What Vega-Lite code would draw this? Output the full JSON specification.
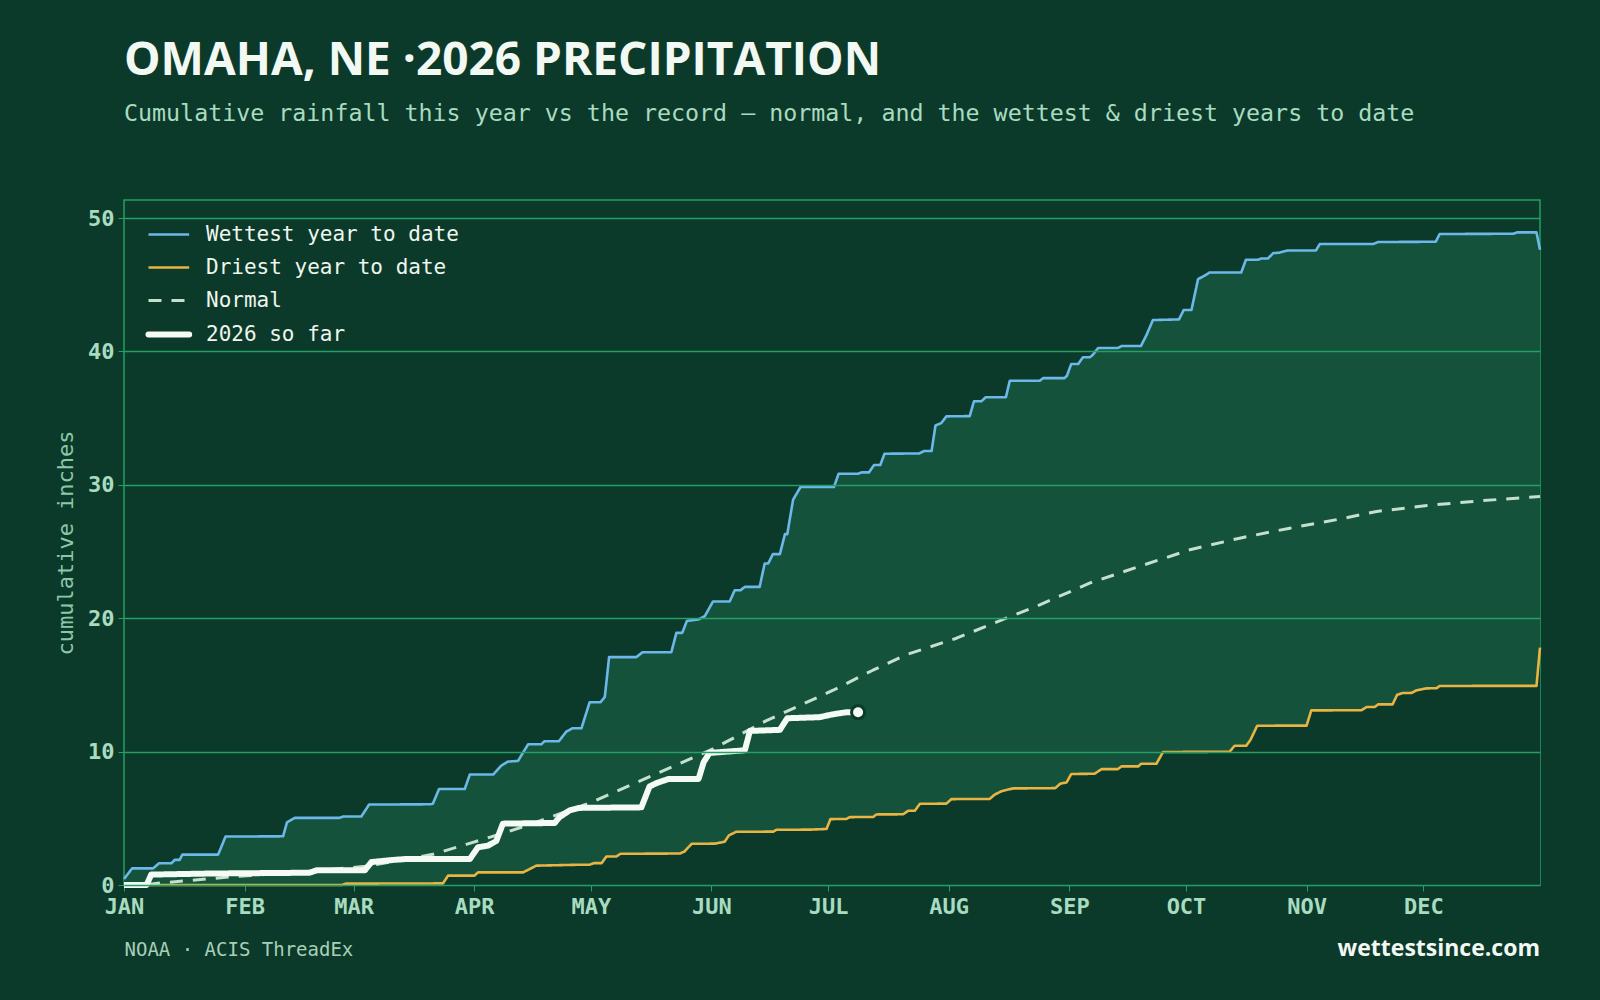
{
  "$schema": "https://vega.github.io/schema/vega-lite/v6.json",
  "width": 1416,
  "height": 685,
  "autosize": {"type": "none"},
  "padding": {"left": 124, "top": 200, "right": 60, "bottom": 115},
  "background": "#0c3a2a",
  "config": {
    "view": {"stroke": "#22a066", "strokeWidth": 1.5},
    "font": "DejaVu Sans Mono"
  },
  "title": {
    "text": "OMAHA, NE ·2026 PRECIPITATION",
    "subtitle": "Cumulative rainfall this year vs the record — normal, and the wettest & driest years to date",
    "anchor": "start",
    "frame": "group",
    "offset": 74,
    "font": "Open Sans",
    "fontSize": 46,
    "fontWeight": 700,
    "color": "#f2f8f2",
    "subtitleFont": "DejaVu Sans Mono",
    "subtitleFontSize": 23.3,
    "subtitleColor": "#a8dcc0",
    "subtitlePadding": 18
  },
  "datasets": {
    "curves": [
      {"s": "Wettest year to date", "d": 0, "v": 0.45},
      {"s": "Wettest year to date", "d": 2.1, "v": 1.25},
      {"s": "Wettest year to date", "d": 7.5, "v": 1.25},
      {"s": "Wettest year to date", "d": 9.0, "v": 1.63},
      {"s": "Wettest year to date", "d": 12.2, "v": 1.63},
      {"s": "Wettest year to date", "d": 13.0, "v": 1.88},
      {"s": "Wettest year to date", "d": 14.3, "v": 1.88},
      {"s": "Wettest year to date", "d": 15.0, "v": 2.28},
      {"s": "Wettest year to date", "d": 24.2, "v": 2.28},
      {"s": "Wettest year to date", "d": 26.1, "v": 3.63},
      {"s": "Wettest year to date", "d": 40.9, "v": 3.65},
      {"s": "Wettest year to date", "d": 41.9, "v": 4.7},
      {"s": "Wettest year to date", "d": 43.9, "v": 5.03},
      {"s": "Wettest year to date", "d": 55.4, "v": 5.03},
      {"s": "Wettest year to date", "d": 56.3, "v": 5.13},
      {"s": "Wettest year to date", "d": 61.0, "v": 5.13},
      {"s": "Wettest year to date", "d": 63.0, "v": 6.03},
      {"s": "Wettest year to date", "d": 78.6, "v": 6.05},
      {"s": "Wettest year to date", "d": 79.4, "v": 6.1},
      {"s": "Wettest year to date", "d": 81.0, "v": 7.2},
      {"s": "Wettest year to date", "d": 87.6, "v": 7.2},
      {"s": "Wettest year to date", "d": 88.9, "v": 8.28},
      {"s": "Wettest year to date", "d": 94.9, "v": 8.28},
      {"s": "Wettest year to date", "d": 97.0, "v": 8.95},
      {"s": "Wettest year to date", "d": 98.7, "v": 9.25},
      {"s": "Wettest year to date", "d": 101.3, "v": 9.3},
      {"s": "Wettest year to date", "d": 101.9, "v": 9.6},
      {"s": "Wettest year to date", "d": 103.9, "v": 10.55},
      {"s": "Wettest year to date", "d": 107.3, "v": 10.55},
      {"s": "Wettest year to date", "d": 108.1, "v": 10.78},
      {"s": "Wettest year to date", "d": 111.8, "v": 10.78},
      {"s": "Wettest year to date", "d": 113.7, "v": 11.5},
      {"s": "Wettest year to date", "d": 115.3, "v": 11.75},
      {"s": "Wettest year to date", "d": 117.6, "v": 11.75},
      {"s": "Wettest year to date", "d": 119.7, "v": 13.7},
      {"s": "Wettest year to date", "d": 122.5, "v": 13.7},
      {"s": "Wettest year to date", "d": 123.6, "v": 14.1},
      {"s": "Wettest year to date", "d": 124.7, "v": 17.08},
      {"s": "Wettest year to date", "d": 131.7, "v": 17.08},
      {"s": "Wettest year to date", "d": 133.3, "v": 17.45},
      {"s": "Wettest year to date", "d": 140.7, "v": 17.45},
      {"s": "Wettest year to date", "d": 142.0, "v": 18.9},
      {"s": "Wettest year to date", "d": 143.5, "v": 18.9},
      {"s": "Wettest year to date", "d": 144.7, "v": 19.8},
      {"s": "Wettest year to date", "d": 147.6, "v": 19.9},
      {"s": "Wettest year to date", "d": 149.3, "v": 20.15},
      {"s": "Wettest year to date", "d": 151.4, "v": 21.25},
      {"s": "Wettest year to date", "d": 155.7, "v": 21.25},
      {"s": "Wettest year to date", "d": 157.0, "v": 22.1},
      {"s": "Wettest year to date", "d": 158.5, "v": 22.1},
      {"s": "Wettest year to date", "d": 159.6, "v": 22.35},
      {"s": "Wettest year to date", "d": 163.4, "v": 22.35},
      {"s": "Wettest year to date", "d": 164.7, "v": 24.1},
      {"s": "Wettest year to date", "d": 165.6, "v": 24.1},
      {"s": "Wettest year to date", "d": 166.8, "v": 24.8},
      {"s": "Wettest year to date", "d": 168.6, "v": 24.8},
      {"s": "Wettest year to date", "d": 169.9, "v": 26.3},
      {"s": "Wettest year to date", "d": 170.5, "v": 26.3},
      {"s": "Wettest year to date", "d": 172.0, "v": 28.88},
      {"s": "Wettest year to date", "d": 173.9, "v": 29.83},
      {"s": "Wettest year to date", "d": 182.5, "v": 29.83},
      {"s": "Wettest year to date", "d": 183.7, "v": 30.83},
      {"s": "Wettest year to date", "d": 188.7, "v": 30.83},
      {"s": "Wettest year to date", "d": 189.6, "v": 30.93},
      {"s": "Wettest year to date", "d": 191.5, "v": 30.93},
      {"s": "Wettest year to date", "d": 192.8, "v": 31.48},
      {"s": "Wettest year to date", "d": 194.4, "v": 31.48},
      {"s": "Wettest year to date", "d": 195.5, "v": 32.33},
      {"s": "Wettest year to date", "d": 204.5, "v": 32.35},
      {"s": "Wettest year to date", "d": 205.6, "v": 32.53},
      {"s": "Wettest year to date", "d": 207.6, "v": 32.53},
      {"s": "Wettest year to date", "d": 208.6, "v": 34.45},
      {"s": "Wettest year to date", "d": 210.1, "v": 34.63},
      {"s": "Wettest year to date", "d": 211.4, "v": 35.13},
      {"s": "Wettest year to date", "d": 217.4, "v": 35.15},
      {"s": "Wettest year to date", "d": 218.5, "v": 36.26},
      {"s": "Wettest year to date", "d": 220.4, "v": 36.26},
      {"s": "Wettest year to date", "d": 221.5, "v": 36.56},
      {"s": "Wettest year to date", "d": 226.7, "v": 36.56},
      {"s": "Wettest year to date", "d": 227.7, "v": 37.8},
      {"s": "Wettest year to date", "d": 235.4, "v": 37.8},
      {"s": "Wettest year to date", "d": 236.3, "v": 38.0},
      {"s": "Wettest year to date", "d": 241.8, "v": 38.0},
      {"s": "Wettest year to date", "d": 242.4, "v": 38.18},
      {"s": "Wettest year to date", "d": 243.5, "v": 39.06},
      {"s": "Wettest year to date", "d": 245.3, "v": 39.06},
      {"s": "Wettest year to date", "d": 246.5, "v": 39.56},
      {"s": "Wettest year to date", "d": 248.3, "v": 39.56},
      {"s": "Wettest year to date", "d": 249.1, "v": 39.76},
      {"s": "Wettest year to date", "d": 250.4, "v": 40.26},
      {"s": "Wettest year to date", "d": 255.5, "v": 40.26},
      {"s": "Wettest year to date", "d": 256.4, "v": 40.4},
      {"s": "Wettest year to date", "d": 261.4, "v": 40.4},
      {"s": "Wettest year to date", "d": 262.8, "v": 41.2},
      {"s": "Wettest year to date", "d": 264.5, "v": 42.35},
      {"s": "Wettest year to date", "d": 271.2, "v": 42.4},
      {"s": "Wettest year to date", "d": 272.4, "v": 43.1},
      {"s": "Wettest year to date", "d": 274.4, "v": 43.1},
      {"s": "Wettest year to date", "d": 276.1, "v": 45.42},
      {"s": "Wettest year to date", "d": 277.4, "v": 45.62},
      {"s": "Wettest year to date", "d": 279.1, "v": 45.92},
      {"s": "Wettest year to date", "d": 287.2, "v": 45.92},
      {"s": "Wettest year to date", "d": 288.4, "v": 46.87},
      {"s": "Wettest year to date", "d": 291.5, "v": 46.87},
      {"s": "Wettest year to date", "d": 292.4, "v": 46.97},
      {"s": "Wettest year to date", "d": 294.1, "v": 46.97},
      {"s": "Wettest year to date", "d": 295.4, "v": 47.37},
      {"s": "Wettest year to date", "d": 297.0, "v": 47.4},
      {"s": "Wettest year to date", "d": 299.2, "v": 47.57},
      {"s": "Wettest year to date", "d": 306.4, "v": 47.57},
      {"s": "Wettest year to date", "d": 307.4, "v": 48.05},
      {"s": "Wettest year to date", "d": 321.1, "v": 48.05},
      {"s": "Wettest year to date", "d": 322.4, "v": 48.2},
      {"s": "Wettest year to date", "d": 337.2, "v": 48.22},
      {"s": "Wettest year to date", "d": 338.2, "v": 48.8},
      {"s": "Wettest year to date", "d": 357.1, "v": 48.82},
      {"s": "Wettest year to date", "d": 358.1, "v": 48.92},
      {"s": "Wettest year to date", "d": 363.1, "v": 48.92},
      {"s": "Wettest year to date", "d": 364, "v": 47.62},

      {"s": "Driest year to date", "d": 0, "v": 0},
      {"s": "Driest year to date", "d": 56.0, "v": 0},
      {"s": "Driest year to date", "d": 57.0, "v": 0.1},
      {"s": "Driest year to date", "d": 82.0, "v": 0.12},
      {"s": "Driest year to date", "d": 83.3, "v": 0.7},
      {"s": "Driest year to date", "d": 90.1, "v": 0.7},
      {"s": "Driest year to date", "d": 91.0, "v": 0.95},
      {"s": "Driest year to date", "d": 102.6, "v": 0.95},
      {"s": "Driest year to date", "d": 104.3, "v": 1.2},
      {"s": "Driest year to date", "d": 106.0, "v": 1.45},
      {"s": "Driest year to date", "d": 117.2, "v": 1.52},
      {"s": "Driest year to date", "d": 119.7, "v": 1.52},
      {"s": "Driest year to date", "d": 120.8, "v": 1.64},
      {"s": "Driest year to date", "d": 122.8, "v": 1.64},
      {"s": "Driest year to date", "d": 124.0, "v": 2.14},
      {"s": "Driest year to date", "d": 126.6, "v": 2.14},
      {"s": "Driest year to date", "d": 127.6, "v": 2.34},
      {"s": "Driest year to date", "d": 142.9, "v": 2.36},
      {"s": "Driest year to date", "d": 144.1, "v": 2.51},
      {"s": "Driest year to date", "d": 145.9, "v": 3.09},
      {"s": "Driest year to date", "d": 151.9, "v": 3.1},
      {"s": "Driest year to date", "d": 154.4, "v": 3.24},
      {"s": "Driest year to date", "d": 155.5, "v": 3.72},
      {"s": "Driest year to date", "d": 157.4, "v": 3.99},
      {"s": "Driest year to date", "d": 166.9, "v": 4.0},
      {"s": "Driest year to date", "d": 167.7, "v": 4.14},
      {"s": "Driest year to date", "d": 176.3, "v": 4.15},
      {"s": "Driest year to date", "d": 180.6, "v": 4.2},
      {"s": "Driest year to date", "d": 181.6, "v": 4.94},
      {"s": "Driest year to date", "d": 185.7, "v": 4.95},
      {"s": "Driest year to date", "d": 186.6, "v": 5.09},
      {"s": "Driest year to date", "d": 192.6, "v": 5.1},
      {"s": "Driest year to date", "d": 193.4, "v": 5.29},
      {"s": "Driest year to date", "d": 200.3, "v": 5.3},
      {"s": "Driest year to date", "d": 201.6, "v": 5.57},
      {"s": "Driest year to date", "d": 203.3, "v": 5.57},
      {"s": "Driest year to date", "d": 204.6, "v": 6.09},
      {"s": "Driest year to date", "d": 211.4, "v": 6.1},
      {"s": "Driest year to date", "d": 212.7, "v": 6.44},
      {"s": "Driest year to date", "d": 222.5, "v": 6.45},
      {"s": "Driest year to date", "d": 223.8, "v": 6.77},
      {"s": "Driest year to date", "d": 225.5, "v": 7.02},
      {"s": "Driest year to date", "d": 228.5, "v": 7.24},
      {"s": "Driest year to date", "d": 239.4, "v": 7.26},
      {"s": "Driest year to date", "d": 240.7, "v": 7.6},
      {"s": "Driest year to date", "d": 242.3, "v": 7.69},
      {"s": "Driest year to date", "d": 243.5, "v": 8.32},
      {"s": "Driest year to date", "d": 249.5, "v": 8.34},
      {"s": "Driest year to date", "d": 251.3, "v": 8.69},
      {"s": "Driest year to date", "d": 255.5, "v": 8.69},
      {"s": "Driest year to date", "d": 256.4, "v": 8.89},
      {"s": "Driest year to date", "d": 260.7, "v": 8.89},
      {"s": "Driest year to date", "d": 261.5, "v": 9.09},
      {"s": "Driest year to date", "d": 265.4, "v": 9.09},
      {"s": "Driest year to date", "d": 267.1, "v": 9.97},
      {"s": "Driest year to date", "d": 284.2, "v": 9.99},
      {"s": "Driest year to date", "d": 285.5, "v": 10.44},
      {"s": "Driest year to date", "d": 288.5, "v": 10.44},
      {"s": "Driest year to date", "d": 289.6, "v": 10.89},
      {"s": "Driest year to date", "d": 291.3, "v": 11.94},
      {"s": "Driest year to date", "d": 304.0, "v": 11.95},
      {"s": "Driest year to date", "d": 305.2, "v": 13.09},
      {"s": "Driest year to date", "d": 318.1, "v": 13.1},
      {"s": "Driest year to date", "d": 319.4, "v": 13.34},
      {"s": "Driest year to date", "d": 321.5, "v": 13.34},
      {"s": "Driest year to date", "d": 322.4, "v": 13.54},
      {"s": "Driest year to date", "d": 326.1, "v": 13.54},
      {"s": "Driest year to date", "d": 327.3, "v": 14.27},
      {"s": "Driest year to date", "d": 328.8, "v": 14.39},
      {"s": "Driest year to date", "d": 331.0, "v": 14.4},
      {"s": "Driest year to date", "d": 332.2, "v": 14.59},
      {"s": "Driest year to date", "d": 334.8, "v": 14.74},
      {"s": "Driest year to date", "d": 337.4, "v": 14.75},
      {"s": "Driest year to date", "d": 338.2, "v": 14.92},
      {"s": "Driest year to date", "d": 363.1, "v": 14.93},
      {"s": "Driest year to date", "d": 364, "v": 17.8},

      {"s": "Normal", "d": 0, "v": 0},
      {"s": "Normal", "d": 7.5, "v": 0.1},
      {"s": "Normal", "d": 28, "v": 0.62},
      {"s": "Normal", "d": 47, "v": 1.0},
      {"s": "Normal", "d": 62, "v": 1.4},
      {"s": "Normal", "d": 71, "v": 1.85},
      {"s": "Normal", "d": 79.4, "v": 2.3},
      {"s": "Normal", "d": 88, "v": 3.05},
      {"s": "Normal", "d": 96.6, "v": 3.8},
      {"s": "Normal", "d": 105, "v": 4.6},
      {"s": "Normal", "d": 120.6, "v": 6.25},
      {"s": "Normal", "d": 135, "v": 8.1},
      {"s": "Normal", "d": 151.4, "v": 10.2},
      {"s": "Normal", "d": 165, "v": 12.3},
      {"s": "Normal", "d": 182.3, "v": 14.6},
      {"s": "Normal", "d": 192.5, "v": 16.1},
      {"s": "Normal", "d": 201, "v": 17.26},
      {"s": "Normal", "d": 214, "v": 18.5},
      {"s": "Normal", "d": 226.8, "v": 20.0},
      {"s": "Normal", "d": 235.4, "v": 21.0},
      {"s": "Normal", "d": 248.2, "v": 22.63},
      {"s": "Normal", "d": 261, "v": 23.88},
      {"s": "Normal", "d": 274, "v": 25.13},
      {"s": "Normal", "d": 286.8, "v": 26.0},
      {"s": "Normal", "d": 299.7, "v": 26.75},
      {"s": "Normal", "d": 312.5, "v": 27.43},
      {"s": "Normal", "d": 322, "v": 28.0},
      {"s": "Normal", "d": 335, "v": 28.45},
      {"s": "Normal", "d": 348.6, "v": 28.8},
      {"s": "Normal", "d": 364, "v": 29.13},

      {"s": "2026 so far", "d": 0, "v": 0},
      {"s": "2026 so far", "d": 5.8, "v": 0},
      {"s": "2026 so far", "d": 7.0, "v": 0.78},
      {"s": "2026 so far", "d": 22, "v": 0.86},
      {"s": "2026 so far", "d": 47.7, "v": 0.92},
      {"s": "2026 so far", "d": 49.5, "v": 1.1},
      {"s": "2026 so far", "d": 61.9, "v": 1.1},
      {"s": "2026 so far", "d": 63.6, "v": 1.72},
      {"s": "2026 so far", "d": 69.2, "v": 1.88},
      {"s": "2026 so far", "d": 72.6, "v": 1.95},
      {"s": "2026 so far", "d": 88.9, "v": 1.95},
      {"s": "2026 so far", "d": 91.0, "v": 2.83},
      {"s": "2026 so far", "d": 93.6, "v": 2.95},
      {"s": "2026 so far", "d": 95.7, "v": 3.3},
      {"s": "2026 so far", "d": 97.4, "v": 4.6},
      {"s": "2026 so far", "d": 110.7, "v": 4.65},
      {"s": "2026 so far", "d": 112.0, "v": 5.1},
      {"s": "2026 so far", "d": 114.6, "v": 5.6},
      {"s": "2026 so far", "d": 117.0, "v": 5.78},
      {"s": "2026 so far", "d": 133.0, "v": 5.82},
      {"s": "2026 so far", "d": 135.1, "v": 7.39},
      {"s": "2026 so far", "d": 136.9, "v": 7.64},
      {"s": "2026 so far", "d": 139.9, "v": 7.94},
      {"s": "2026 so far", "d": 147.7, "v": 7.95},
      {"s": "2026 so far", "d": 149.0, "v": 9.2},
      {"s": "2026 so far", "d": 150.5, "v": 9.9},
      {"s": "2026 so far", "d": 159.6, "v": 10.1},
      {"s": "2026 so far", "d": 160.9, "v": 11.55},
      {"s": "2026 so far", "d": 168.6, "v": 11.63},
      {"s": "2026 so far", "d": 170.5, "v": 12.5},
      {"s": "2026 so far", "d": 178.8, "v": 12.58},
      {"s": "2026 so far", "d": 182.3, "v": 12.8},
      {"s": "2026 so far", "d": 185.7, "v": 12.95},
      {"s": "2026 so far", "d": 188.7, "v": 12.95}
    ]
  },
  "layer": [
    {
      "data": {"name": "curves"},
      "encoding": {
        "x": {
          "field": "d",
          "type": "quantitative",
          "scale": {"domain": [0, 364], "nice": false, "zero": false},
          "axis": {
            "values": [0, 31, 59, 90, 120, 151, 181, 212, 243, 273, 304, 334],
            "labelExpr": "['JAN','FEB','MAR','APR','MAY','JUN','JUL','AUG','SEP','OCT','NOV','DEC'][indexof([0,31,59,90,120,151,181,212,243,273,304,334], datum.value)]",
            "grid": false,
            "domain": false,
            "ticks": true,
            "tickSize": 6,
            "tickColor": "#22a066",
            "labelFont": "DejaVu Sans Mono",
            "labelFontWeight": "bold",
            "labelFontSize": 22,
            "labelColor": "#a8dcc0",
            "labelPadding": 5,
            "labelFlush": false,
            "labelOverlap": false,
            "title": "NOAA · ACIS ThreadEx",
            "titleAnchor": "start",
            "titleAlign": "left",
            "titleFont": "DejaVu Sans Mono",
            "titleFontWeight": "normal",
            "titleFontSize": 19,
            "titleColor": "#a8d0b8",
            "titlePadding": 23
          }
        },
        "y": {
          "field": "v",
          "type": "quantitative",
          "scale": {"domain": [0, 51.35], "nice": false},
          "axis": {
            "values": [0, 10, 20, 30, 40, 50],
            "grid": true,
            "gridColor": "#22a066",
            "gridWidth": 1.3,
            "zindex": 1,
            "domain": false,
            "tickSize": 6,
            "tickColor": "#22a066",
            "labelFont": "DejaVu Sans Mono",
            "labelFontWeight": "bold",
            "labelFontSize": 22,
            "labelColor": "#a8dcc0",
            "labelPadding": 4,
            "title": "cumulative inches",
            "titleFont": "DejaVu Sans Mono",
            "titleFontWeight": "normal",
            "titleFontSize": 22,
            "titleColor": "#8cc8a8",
            "titlePadding": 10
          }
        }
      },
      "layer": [
        {
          "transform": [{"filter": "datum.s === 'Wettest year to date'"}],
          "mark": {"type": "area", "color": "#14523c", "interpolate": "linear"}
        },
        {
          "transform": [{"filter": "datum.s === 'Driest year to date'"}],
          "mark": {"type": "area", "color": "#0c3a2a", "interpolate": "linear"}
        },
        {
          "mark": {"type": "line", "strokeJoin": "round", "strokeCap": "butt"},
          "encoding": {
            "color": {
              "field": "s",
              "type": "nominal",
              "scale": {
                "domain": ["Wettest year to date", "Driest year to date", "Normal", "2026 so far"],
                "range": ["#6db8ea", "#e8b444", "#c6e0ce", "#f4faf4"]
              },
              "legend": {
                "title": null,
                "orient": "top-left",
                "offset": 24,
                "padding": 0,
                "symbolType": "M-0.77,0H2.36",
                "symbolSize": 676,
                "labelFont": "DejaVu Sans Mono",
                "labelFontSize": 21,
                "labelColor": "#eef6ee",
                "labelOffset": 37,
                "rowPadding": 11,
                "labelLimit": 400,
                "encode": {
                  "symbols": {
                    "update": {
                      "strokeWidth": {"signal": "datum.value === '2026 so far' ? 6 : (datum.value === 'Normal' ? 3 : 2.6)"},
                      "fill": {"value": "transparent"},
                      "strokeCap": {"signal": "datum.value === '2026 so far' ? 'round' : 'butt'"}
                    }
                  }
                }
              }
            },
            "strokeDash": {
              "field": "s",
              "type": "nominal",
              "scale": {
                "domain": ["Wettest year to date", "Driest year to date", "Normal", "2026 so far"],
                "range": [[1, 0], [1, 0], [13, 10], [1, 0]]
              },
              "legend": {"title": null}
            },
            "strokeWidth": {
              "condition": [
                {"test": "datum.s === '2026 so far'", "value": 6},
                {"test": "datum.s === 'Normal'", "value": 3}
              ],
              "value": 2.6
            }
          }
        },
        {
          "transform": [
            {"filter": "datum.s === '2026 so far'"},
            {"joinaggregate": [{"op": "max", "field": "d", "as": "maxd"}]},
            {"filter": "datum.d === datum.maxd"}
          ],
          "mark": {"type": "point", "filled": true, "fill": "#f4faf4", "stroke": "#0c3a2a", "strokeWidth": 3, "size": 170, "opacity": 1}
        }
      ]
    },
    {
      "data": {"values": [{"label": "wettestsince.com"}]},
      "mark": {"type": "text", "align": "right", "baseline": "alphabetic", "font": "Open Sans", "fontWeight": 700, "fontSize": 23, "color": "#f2f8f2"},
      "encoding": {
        "x": {"datum": 364, "type": "quantitative"},
        "y": {"datum": -5.3, "type": "quantitative"},
        "text": {"field": "label"}
      }
    }
  ]
}
